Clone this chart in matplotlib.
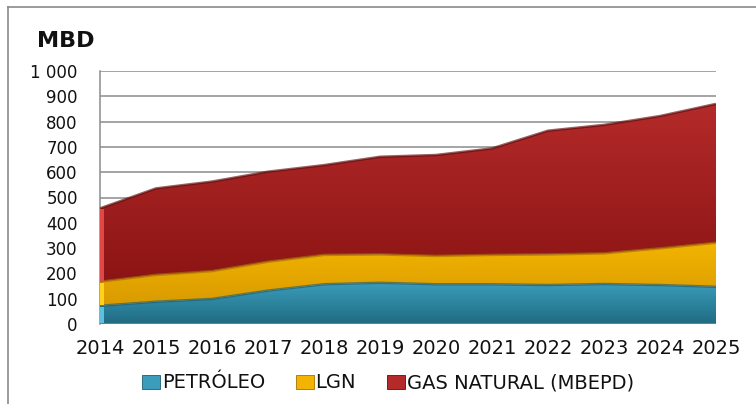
#!/usr/bin/env python3

import numpy as np
import matplotlib
matplotlib.use("Agg")
import matplotlib.pyplot as plt
from matplotlib.colors import LinearSegmentedColormap
from matplotlib.patches import Rectangle

# production by source, MBD
years = [2014, 2015, 2016, 2017, 2018, 2019, 2020, 2021, 2022, 2023, 2024, 2025]
petroleo = [72, 88, 99, 132, 157, 163, 157, 157, 154, 158, 154, 147]
lgn = [95, 106, 110, 114, 116, 112, 112, 116, 121, 121, 145, 174]
gas = [290, 342, 354, 356, 355, 386, 399, 421, 489, 508, 523, 549]

series_names = ["PETRÓLEO", "LGN", "GAS NATURAL (MBEPD)"]
# (top colour, bottom colour, edge colour, side face colour)
series_colors = [
    ("#3b9dbb", "#1f6b82", "#1d5f72", "#5cc0de"),
    ("#f2b400", "#d99a00", "#a86f00", "#ffd21a"),
    ("#b42a2a", "#8c1414", "#5e0c0c", "#e04848"),
]

x = np.array(years, dtype=float)
layers = [np.array(petroleo, float), np.array(lgn, float), np.array(gas, float)]

fig = plt.figure(figsize=(7.56, 4.04), dpi=100)
ax = fig.add_axes([100 / 756, 80 / 404, 616 / 756, 253 / 404])

ax.set_xlim(years[0], years[-1])
ax.set_ylim(0, 1000)

# grid lines behind the areas
ax.set_yticks(np.arange(0, 1001, 100))
ax.set_yticklabels(["1 000" if v == 1000 else str(v) for v in range(0, 1001, 100)])
ax.yaxis.grid(True, color="#8c8c8c", lw=1.1)
ax.set_axisbelow(True)
ax.set_xticks(years)
ax.set_xticklabels([str(y) for y in years])

for s in ["top", "right", "bottom"]:
    ax.spines[s].set_visible(False)
ax.spines["left"].set_color("#8c8c8c")
ax.spines["left"].set_linewidth(1.1)

ax.tick_params(axis="both", length=0)
ax.tick_params(axis="y", pad=16, labelsize=12)
ax.tick_params(axis="x", pad=11, labelsize=14)

bottom = np.zeros_like(x)
side_w = 0.07
for vals, name, (c_top, c_bot, c_edge, c_side) in zip(layers, series_names, series_colors):
    top = bottom + vals
    poly = ax.fill_between(x, bottom, top, facecolor="none", edgecolor="none", zorder=2)
    # vertical gradient clipped to the area
    cmap = LinearSegmentedColormap.from_list(name, [c_bot, c_top])
    grad = np.linspace(0, 1, 256).reshape(-1, 1)
    ymin, ymax = bottom.min(), top.max()
    img = ax.imshow(grad, cmap=cmap, origin="lower", aspect="auto",
                    extent=[years[0], years[-1], ymin, ymax], zorder=2,
                    interpolation="bicubic")
    img.set_clip_path(poly.get_paths()[0], transform=ax.transData)
    # shaded rim along the upper edge
    ax.plot(x, top, color=c_edge, lw=1.8, alpha=0.65, zorder=3,
            solid_capstyle="butt")
    # lighter side face at the first year
    ax.add_patch(Rectangle((years[0], bottom[0] + 4), side_w, vals[0] - 8,
                           facecolor=c_side, edgecolor="none", zorder=4))
    bottom = top

ax.set_xlim(years[0], years[-1])
ax.set_ylim(0, 1000)

# baseline
ax.axhline(0, color="#6f7f86", lw=1.5, zorder=5)

for lbl in ax.get_yticklabels() + ax.get_xticklabels():
    lbl.set_color("#111111")

fig.text(66 / 756, 1 - 41 / 404, "MBD", fontsize=16, fontweight="bold",
         ha="center", va="center", color="#111111")

handles = [Rectangle((0, 0), 1, 1, facecolor=c[0], edgecolor=c[2], lw=0.6)
           for c in series_colors]
fig.legend(handles, series_names, loc="center", bbox_to_anchor=(388 / 756, 1 - 383 / 404),
           ncol=3, frameon=False, fontsize=14, handlelength=0.9, handleheight=0.7,
           handletextpad=0.1, columnspacing=1.6, labelcolor="#111111")

# chart border (top and left)
fig.add_artist(plt.Line2D([8 / 756, 1], [1 - 7 / 404] * 2, color="#8a8a8a", lw=1.2))
fig.add_artist(plt.Line2D([8 / 756] * 2, [0, 1 - 7 / 404], color="#8a8a8a", lw=1.2))

fig.savefig("out.png", dpi=100)
